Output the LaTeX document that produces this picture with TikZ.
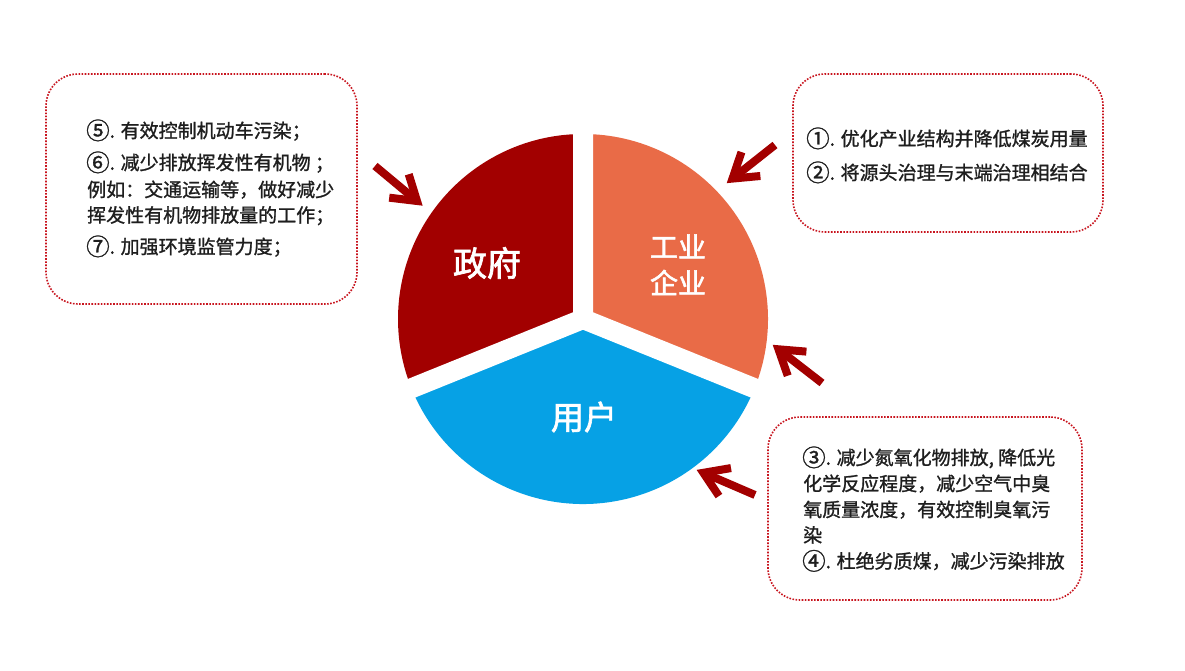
\documentclass[tikz,border=0pt]{standalone}
\usepackage{fontspec}
\newfontfamily\cjk[FakeBold=1.2]{Noto Sans CJK SC}
\newfontfamily\cjkbig[FakeBold=2]{Noto Sans CJK SC}
\usetikzlibrary{calc}
\definecolor{govred}{HTML}{A20000}
\definecolor{indorange}{HTML}{E96B47}
\definecolor{userblue}{HTML}{06A1E5}
\definecolor{arrowred}{HTML}{A30000}
\definecolor{boxred}{HTML}{C8141E}
\definecolor{txt}{HTML}{1E1E1E}
\newcommand{\circnum}[1]{\raisebox{-1.6pt}{\fontsize{23.5}{23.5}\selectfont #1}}
\newcommand{\chevarrow}[2]{%
  \draw[arrowshaft] (#1) -- (#2);
  \draw[arrowhead] ($(#2)!28pt!33:(#1)$) -- (#2) -- ($(#2)!28pt!-33:(#1)$);
}
\begin{document}
\begin{tikzpicture}[x=1pt,y=1pt,
  tipbox/.style={draw=boxred, line width=1.6pt, dash pattern=on 1.6pt off 1.5pt, rounded corners=32pt, inner sep=0pt},
  listline/.style={anchor=base west, inner sep=0pt, font=\cjk\fontsize{19}{19}\selectfont, text=txt},
  pielabel/.style={anchor=base, inner sep=0pt, text=white},
  arrowshaft/.style={draw=arrowred, line width=8pt},
  arrowhead/.style={draw=arrowred, line width=8pt, line join=miter}]
\useasboundingbox (0,0) rectangle (1185,671);
\fill[white] (0,0) rectangle (1185,671);
% pie
\coordinate (C) at (583,352);
\def\R{185}
\fill[govred] (C) -- ++(90:\R) arc[start angle=90,end angle=202,radius=\R] -- cycle;
\fill[indorange] (C) -- ++(-22:\R) arc[start angle=-22,end angle=90,radius=\R] -- cycle;
\fill[userblue] (C) -- ++(202:\R) arc[start angle=202,end angle=338,radius=\R] -- cycle;
\draw[white, line width=20pt] (C) -- ++(90:\R+10) (C) -- ++(202:\R+10) (C) -- ++(338:\R+10);
% pie labels
\node[pielabel, font=\cjkbig\fontsize{34}{34}\selectfont] (gov) at (487,395) {政府};
\node[pielabel, font=\cjkbig\fontsize{28}{28}\selectfont] (ind1) at (678,413.4) {工业};
\node[pielabel, font=\cjkbig\fontsize{28}{28}\selectfont] (ind2) at (678,377.4) {企业};
\node[pielabel, font=\cjkbig\fontsize{33}{33}\selectfont] (user) at (584,241.5) {用户};
% boxes
\node[tipbox, minimum width=311pt, minimum height=230pt] (boxL) at (201.5,482) {};
\node[tipbox, minimum width=310pt, minimum height=158pt] (boxRT) at (948,518) {};
\node[tipbox, minimum width=314pt, minimum height=183pt] (boxRB) at (925,162.5) {};
% left text
\node[listline] (l5) at (86,533.3) {\circnum{⑤}. 有效控制机动车污染；};
\node[listline] (l6) at (86,501.3) {\circnum{⑥}. 减少排放挥发性有机物 ；};
\node[listline] (l6b) at (87,474.3) {例如：交通运输等，做好减少};
\node[listline] (l6c) at (87,448.8) {挥发性有机物排放量的工作；};
\node[listline] (l7) at (86,417.3) {\circnum{⑦}. 加强环境监管力度；};
% right top text
\node[listline] (r1) at (806,525.3) {\circnum{①}. 优化产业结构并降低煤炭用量};
\node[listline] (r2) at (806,491.3) {\circnum{②}. 将源头治理与末端治理相结合};
% right bottom text
\node[listline] (r3) at (802,206.3) {\circnum{③}. 减少氮氧化物排放, 降低光};
\node[listline] (r3b) at (803,180.3) {化学反应程度，减少空气中臭};
\node[listline] (r3c) at (803,154.3) {氧质量浓度，有效控制臭氧污};
\node[listline] (r3d) at (803,128.8) {染};
\node[listline] (r4) at (802,102.8) {\circnum{④}. 杜绝劣质煤，减少污染排放};
% arrows
\coordinate (t1) at (375,505); \coordinate (h1) at (417,470);
\coordinate (t2) at (775,526); \coordinate (h2) at (732.5,492.4);
\coordinate (t3) at (822,288); \coordinate (h3) at (778.5,321.7);
\coordinate (t4) at (755,176); \coordinate (h4) at (703.4,198.2);
\chevarrow{t1}{h1}
\chevarrow{t2}{h2}
\chevarrow{t3}{h3}
\chevarrow{t4}{h4}
\end{tikzpicture}
\end{document}
